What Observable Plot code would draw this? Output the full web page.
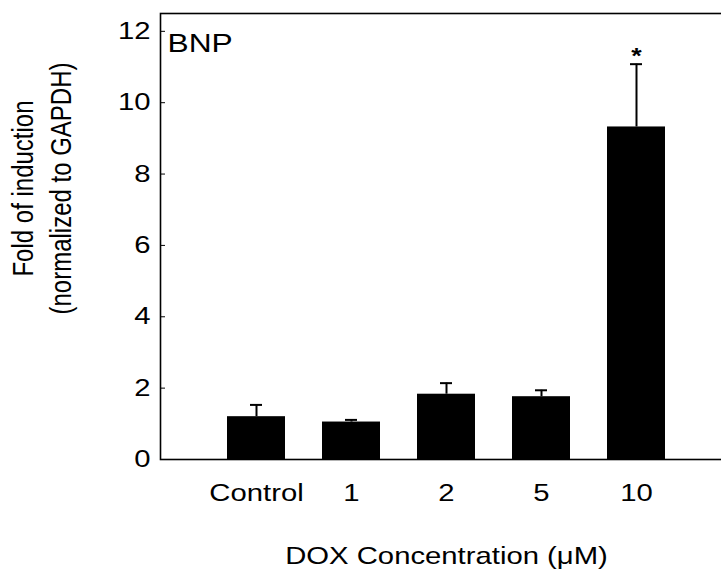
<!DOCTYPE html>
<html>
<head>
<meta charset="utf-8">
<script src="https://cdn.jsdelivr.net/npm/d3@7"></script>
<script src="https://cdn.jsdelivr.net/npm/@observablehq/plot@0.6"></script>
<style>
  html, body { margin: 0; padding: 0; background: #fff; }
  #chart { width: 721px; height: 572px; overflow: hidden; }
</style>
</head>
<body>
<div id="chart"></div>
<script>
// BNP expression after DOX treatment, fold of induction (mean and SD)
const doses = ["Control", "1", "2", "5", "10"];
const foldMean = [1.20, 1.05, 1.83, 1.76, 9.32];
const foldSD = [0.33, 0.06, 0.31, 0.18, 1.76];
const significant = ["10"];
const yTicks = [0, 2, 4, 6, 8, 10, 12];

const rows = doses.map((d, i) => ({
  dose: d,
  mean: foldMean[i],
  sd: foldSD[i],
  top: foldMean[i] + foldSD[i]
}));

const font = "'Liberation Sans', Arial, Helvetica, sans-serif";

const chart = Plot.plot({
  width: 721,
  height: 572,
  marginLeft: 160,
  marginRight: -11,
  marginTop: 13,
  marginBottom: 113,
  style: { fontFamily: font, fontSize: "24px", color: "#000", background: "#fff", overflow: "hidden" },
  x: { domain: doses, paddingInner: 0.39, paddingOuter: 0.68, label: null },
  y: { domain: [0, 12.5], label: null },
  marks: [
    Plot.barY(rows, { x: "dose", y: "mean", fill: "#000" }),
    // upper error bars with short caps
    Plot.ruleX(rows, { x: "dose", y1: "mean", y2: "top", stroke: "#000", strokeWidth: 2 }),
    Plot.tickY(rows, { x: "dose", y: "top", stroke: "#000", strokeWidth: 2, insetLeft: 23, insetRight: 23 }),
    Plot.text(rows.filter(r => significant.includes(r.dose)), {
      x: "dose", y: "top", text: () => "*", lineAnchor: "bottom", dy: -1, fontSize: 22, fontWeight: "bold"
    }),
    Plot.frame({ stroke: "#000", strokeWidth: 1.6 }),
    Plot.axisY(yTicks, { tickSize: -5, tickPadding: 15, fontSize: 24, label: null }),
    Plot.axisX({ tickSize: 0, tickPadding: 24, fontSize: 24, label: null }),
    Plot.text(["BNP"], { frameAnchor: "top-left", dx: 7, dy: 20, lineAnchor: "top", textAnchor: "start", fontSize: 26 }),
    Plot.text(["DOX Concentration (μM)"], { frameAnchor: "bottom", dy: 87, lineAnchor: "top", fontSize: 24 }),
    Plot.text(["Fold of induction\n(normalized to GAPDH)"], {
      frameAnchor: "left", rotate: -90, dx: -154, dy: -48,
      textAnchor: "middle", lineAnchor: "top", lineHeight: 1.3, fontSize: 24
    })
  ]
});

// the lettering of this figure is set wide: widen horizontal labels,
// and thicken the rotated axis title across its lines
d3.select(chart).selectAll("text").each(function () {
  const t = this.getAttribute("transform");
  if (t == null) return;
  this.setAttribute("transform", t + (t.includes("rotate") ? " scale(1,1.2)" : " scale(1.22,1)"));
});

document.getElementById("chart").append(chart);
</script>
</body>
</html>
